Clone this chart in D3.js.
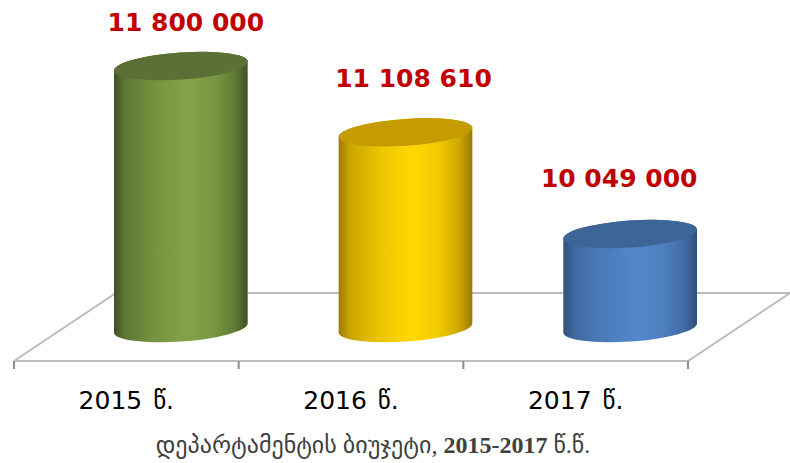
<!DOCTYPE html>
<html>
<head>
<meta charset="utf-8">
<script src="https://cdnjs.cloudflare.com/ajax/libs/d3/7.8.5/d3.min.js"></script>
<style>
  html, body { margin: 0; padding: 0; background: #fff; }
  svg { display: block; }
</style>
</head>
<body>
<svg id="chart"></svg>
<script>
// chart values
const years = ["2015 წ.", "2016 წ.", "2017 წ."];
const budget = [11800000, 11108610, 10049000];
const budgetLabels = ["11 800 000", "11 108 610", "10 049 000"];
const titleParts = ["დეპარტამენტის ბიუჯეტი, ", "2015-2017", " წ.წ."];

// colours per bar: edge, middle, top cap
const edgeColors = ["#3f5225", "#9c7a00", "#30507a"];
const midColors = ["#82a346", "#ffd800", "#5287cc"];
const capColors = ["#5b7034", "#c49c00", "#3c6595"];

const width = 790, height = 463;
const svg = d3.select("#chart").attr("width", width).attr("height", height);

// floor of the 3d box
const floor = { left: 14, right: 688, front: 361, back: 293, depth: 102 };
const depthShift = 54.5; // cylinders stand in the middle of the floor
const rx = 67, ry = 13.5, tilt = -4;

const x = d3.scaleBand().domain(years).range([floor.left, floor.right]);
const y = d3.scaleLinear().domain([9070000, 11800000]).range([328, 66]);

const defs = svg.append("defs");
defs.append("filter").attr("id", "soft")
  .append("feGaussianBlur").attr("stdDeviation", 0.5);

// [offset, how far from edge colour to middle colour]
const bodyStops = [[0, 0], [8, 0.45], [30, 0.8], [55, 1], [75, 0.85], [90, 0.5], [100, 0]];
years.forEach((d, i) => {
  const mix = d3.interpolateRgb(edgeColors[i], midColors[i]);
  defs.append("linearGradient").attr("id", "body" + i)
    .selectAll("stop")
    .data(bodyStops)
    .enter()
    .append("stop")
    .attr("offset", (s) => s[0] + "%")
    .attr("stop-color", (s) => mix(s[1]));
});

// floor lines
const lineColor = "#bcbcbc";
const floorPath = d3.path();
floorPath.moveTo(floor.left, floor.front);
floorPath.lineTo(floor.right, floor.front);
floorPath.lineTo(floor.right + floor.depth, floor.back);
floorPath.moveTo(floor.left, floor.front);
floorPath.lineTo(floor.left + floor.depth, floor.back);
floorPath.lineTo(floor.right + floor.depth, floor.back);
svg.append("path")
  .attr("d", floorPath.toString())
  .attr("fill", "none")
  .attr("stroke", lineColor)
  .attr("stroke-width", 2);

// tick marks sit on the band edges
svg.selectAll("line.tick-mark")
  .data(d3.range(years.length + 1))
  .enter()
  .append("line")
  .attr("class", "tick-mark")
  .attr("x1", (d) => floor.left + d * x.step())
  .attr("x2", (d) => floor.left + d * x.step())
  .attr("y1", floor.front)
  .attr("y2", floor.front + 8)
  .attr("stroke", "#8c8c8c")
  .attr("stroke-width", 2);

// x axis labels
const xAxis = svg.append("g")
  .attr("transform", `translate(0, ${floor.front})`)
  .call(d3.axisBottom(x).tickSize(0).tickPadding(30));
xAxis.select(".domain").remove();
xAxis.selectAll("text")
  .attr("fill", "#000")
  .style("font-family", "'DejaVu Sans'")
  .style("font-size", "25px")
  .style("word-spacing", "3px");

// cylinders
const tiltRad = tilt * Math.PI / 180;
const dx = rx * Math.cos(tiltRad), dy = rx * Math.sin(tiltRad);
const cx = (d) => x(d) + x.bandwidth() / 2 + depthShift;

const bars = svg.selectAll("g.bar")
  .data(years)
  .enter()
  .append("g")
  .attr("class", "bar")
  .attr("filter", "url(#soft)");

bars.append("path")
  .attr("fill", (d, i) => `url(#body${i})`)
  .attr("d", (d, i) => {
    const top = y(budget[i]), base = y.range()[0];
    const c = cx(d);
    return `M${c - dx},${top - dy}L${c - dx},${base - dy}` +
      `A${rx},${ry} ${tilt} 0 0 ${c + dx},${base + dy}` +
      `L${c + dx},${top + dy}` +
      `A${rx},${ry} ${tilt} 0 0 ${c - dx},${top - dy}Z`;
  });

bars.append("ellipse")
  .attr("rx", rx)
  .attr("ry", ry)
  .attr("fill", (d, i) => capColors[i])
  .attr("transform", (d, i) => `translate(${cx(d)}, ${y(budget[i])}) rotate(${tilt})`);

// value labels were placed by hand in the original, so each has its own nudge
const labelNudgeX = [5, 8, -11];
const labelNudgeY = [-35, -45, -47];
svg.selectAll("text.value")
  .data(budgetLabels)
  .enter()
  .append("text")
  .attr("class", "value")
  .attr("x", (d, i) => cx(years[i]) + labelNudgeX[i])
  .attr("y", (d, i) => y(budget[i]) + labelNudgeY[i])
  .attr("text-anchor", "middle")
  .attr("fill", "#c00000")
  .style("font-family", "'DejaVu Sans'")
  .style("font-weight", "bold")
  .style("font-size", "25px")
  .text((d) => d);

// chart title under the axis, the digits are heavier than the rest
svg.append("text")
  .attr("x", 373)
  .attr("y", 453)
  .attr("text-anchor", "middle")
  .attr("fill", "#404040")
  .style("font-family", "'Liberation Serif', 'DejaVu Sans'")
  .style("font-size", "24px")
  .selectAll("tspan")
  .data(titleParts)
  .enter()
  .append("tspan")
  .style("font-weight", (d, i) => (i === 1 ? "bold" : "normal"))
  .text((d) => d);
</script>
</body>
</html>
